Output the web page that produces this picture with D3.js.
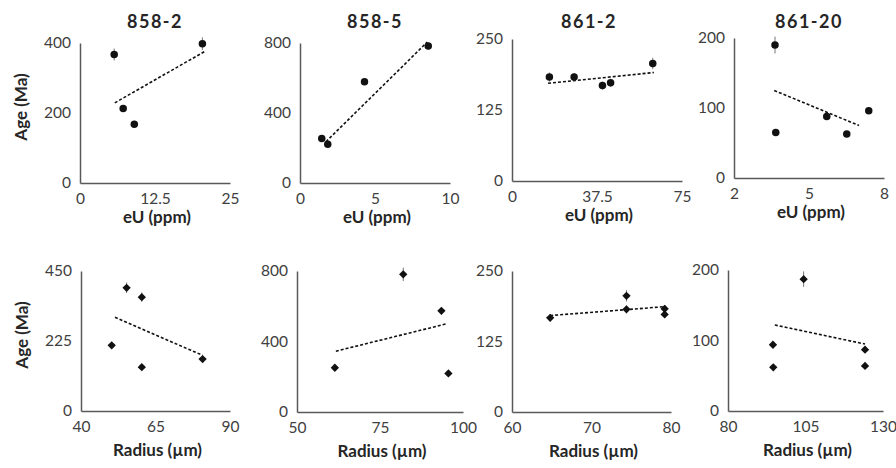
<!DOCTYPE html>
<html>
<head>
<meta charset="utf-8">
<script src="https://cdn.jsdelivr.net/npm/d3@7"></script>
<style>
  body { margin: 0; background: #fff; }
  text { font-family: Lato, "Open Sans", sans-serif; }
</style>
</head>
<body>
<div id="chart"></div>
<script>
// ---- data ----
const titles = ["858-2", "858-5", "861-2", "861-20"];

// top row: age vs eU
const eu858_2 = [5.7, 7.2, 9.05, 20.4];
const ageEu858_2 = [367, 213, 168, 398];
const errEu858_2 = [17, 8, 6, 18];
const eu858_5 = [1.45, 1.85, 4.3, 8.55];
const ageEu858_5 = [254, 221, 579, 783];
const errEu858_5 = [8, 8, 10, 20];
const eu861_2 = [16.5, 27.4, 39.9, 43.5, 62.1];
const ageEu861_2 = [183, 183, 168, 173, 207];
const errEu861_2 = [8, 7, 7, 7, 10];
const eu861_20 = [3.64, 3.67, 5.71, 6.51, 7.39];
const ageEu861_20 = [190, 65, 88, 63, 96];
const errEu861_20 = [12, 3, 4, 3, 3];

// bottom row: age vs radius
const rad858_2 = [50.3, 55.3, 60.4, 60.4, 80.8];
const ageRad858_2 = [211, 396, 366, 141, 167];
const errRad858_2 = [6, 17, 15, 6, 7];
const rad858_5 = [61.4, 82.0, 93.5, 95.6];
const ageRad858_5 = [251, 781, 574, 219];
const errRad858_5 = [10, 38, 20, 8];
const rad861_2 = [64.8, 74.4, 74.4, 79.2, 79.2];
const ageRad861_2 = [167, 206, 182, 183, 173];
const errRad861_2 = [6, 10, 7, 6, 6];
const rad861_20 = [94.5, 94.6, 104.4, 124.2, 124.2];
const ageRad861_20 = [94, 62, 187, 87, 64];
const errRad861_20 = [3, 3, 11, 3, 3];

// trend line end points [x0, y0, x1, y1]
const trendEu = [[5.8, 229, 20.7, 375], [1.73, 236, 8.49, 806], [15.9, 172, 62.6, 191], [3.61, 125, 7.0, 75]];
const trendRad = [[51.4, 301, 80.8, 179], [61.7, 345, 95, 500], [64.8, 171, 79.4, 187], [95.1, 122, 124.2, 95]];

// axis domains and tick labels
const xTicksEu = [[0, 12.5, 25], [0, 5, 10], [0, 37.5, 75], [2, 5, 8]];
const xTicksRad = [[40, 65, 90], [50, 75, 100], [60, 70, 80], [80, 105, 130]];
const yTicksEu = [[0, 200, 400], [0, 400, 800], [0, 125, 250], [0, 100, 200]];
const yTicksRad = [[0, 225, 450], [0, 400, 800], [0, 125, 250], [0, 100, 200]];

// ---- layout ----
const W = 896, H = 468;
const boxesTop = [[80, 43, 150, 140], [300, 43, 150, 140], [512, 39, 170, 142], [734, 38, 150, 140]];
const boxesBot = [[81, 271, 149, 140], [297, 271, 166, 141], [512, 271, 159, 141], [728, 270, 155, 141]];

const svg = d3.select("#chart").append("svg")
    .attr("width", W).attr("height", H);

const axisColor = "#595959";
const labelColor = "#404040";

function panel(box, xt, yt, xs, ys, es, trend, marker, xLabel, labelGap, showY) {
    const [left, top, w, h] = box;
    const g = svg.append("g").attr("transform", `translate(${left},${top})`);
    const x = d3.scaleLinear().domain([xt[0], xt[xt.length - 1]]).range([0, w]);
    const y = d3.scaleLinear().domain([yt[0], yt[yt.length - 1]]).range([h, 0]);

    const xAxis = d3.axisBottom(x).tickValues(xt).tickSize(0).tickPadding(10)
        .tickFormat(d => d3.format("~g")(d));
    const yAxis = d3.axisLeft(y).tickValues(yt).tickSize(0).tickPadding(9);

    const xa = g.append("g").attr("transform", `translate(0,${h})`).call(xAxis);
    const ya = g.append("g").call(yAxis);
    [xa, ya].forEach(a => {
        a.select(".domain").attr("stroke", axisColor).attr("stroke-width", 1.5);
        a.selectAll("text").attr("fill", labelColor).attr("font-size", "15.5px")
            .style("font-family", "Lato, 'Open Sans', sans-serif");
    });

    // trend line
    g.append("line")
        .attr("x1", x(trend[0])).attr("y1", y(trend[1]))
        .attr("x2", x(trend[2])).attr("y2", y(trend[3]))
        .attr("stroke", "#111").attr("stroke-width", 1.6)
        .attr("stroke-dasharray", "3,2");

    const pts = xs.map((v, i) => ({ x: v, y: ys[i], e: es[i] }));

    // error bars
    g.selectAll(".err").data(pts).join("line")
        .attr("x1", d => x(d.x)).attr("x2", d => x(d.x))
        .attr("y1", d => y(d.y - d.e)).attr("y2", d => y(d.y + d.e))
        .attr("stroke", "#777").attr("stroke-width", 1);

    // markers
    const sym = d3.symbol().type(marker === "circle" ? d3.symbolCircle : d3.symbolDiamond2)
        .size(44);
    g.selectAll(".pt").data(pts).join("path")
        .attr("transform", d => `translate(${x(d.x)},${y(d.y)})`)
        .attr("d", sym)
        .attr("fill", "#111");

    // x label
    g.append("text")
        .attr("x", w / 2 + 2).attr("y", h + labelGap)
        .attr("text-anchor", "middle")
        .attr("font-size", "17px").attr("font-weight", "bold")
        .attr("fill", "#262626")
        .text(xLabel);

    if (showY) {
        g.append("text")
            .attr("transform", `translate(${-53},${h / 2 - 6}) rotate(-90)`)
            .attr("text-anchor", "middle")
            .attr("font-size", "17px").attr("font-weight", "bold")
            .attr("fill", "#262626")
            .text("Age (Ma)");
    }
    return g;
}

const euX = [eu858_2, eu858_5, eu861_2, eu861_20];
const euY = [ageEu858_2, ageEu858_5, ageEu861_2, ageEu861_20];
const euE = [errEu858_2, errEu858_5, errEu861_2, errEu861_20];
const radX = [rad858_2, rad858_5, rad861_2, rad861_20];
const radY = [ageRad858_2, ageRad858_5, ageRad861_2, ageRad861_20];
const radE = [errRad858_2, errRad858_5, errRad861_2, errRad861_20];

titles.forEach((t, i) => {
    const g = panel(boxesTop[i], xTicksEu[i], yTicksEu[i], euX[i], euY[i], euE[i], trendEu[i], "circle", "eU (ppm)", 40, i === 0);
    const b = boxesTop[i];
    g.append("text")
        .attr("x", b[2] / 2 + (i === 2 ? -8 : 0)).attr("y", 28 - b[1])
        .attr("text-anchor", "middle")
        .attr("font-size", "18px").attr("font-weight", "bold")
        .attr("letter-spacing", "1.5px")
        .attr("fill", "#262626")
        .text(t);
    panel(boxesBot[i], xTicksRad[i], yTicksRad[i], radX[i], radY[i], radE[i], trendRad[i], "diamond", "Radius (µm)", 45, i === 0);
});
</script>
</body>
</html>
